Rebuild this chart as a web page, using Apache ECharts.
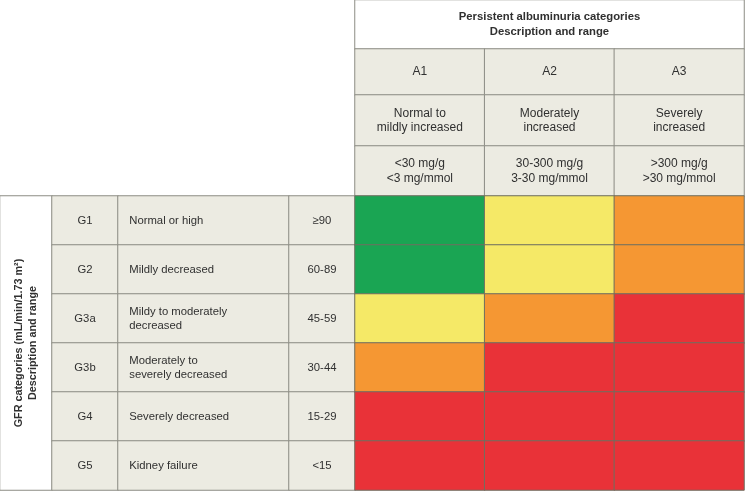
<!DOCTYPE html>
<html>
<head>
<meta charset="utf-8">
<script src="https://cdn.jsdelivr.net/npm/echarts@6/dist/echarts.min.js"></script>
<style>html,body{margin:0;padding:0;background:#fff}#c{width:745px;height:491px}</style>
</head>
<body>
<div id="c"></div>
<script>
const headerTitle = 'Persistent albuminuria categories\nDescription and range';
const sideTitle = 'GFR categories (mL/min/1.73 m²)\nDescription and range';
const albCategories = ['A1', 'A2', 'A3'];
const albDescriptions = ['Normal to\nmildly increased', 'Moderately\nincreased', 'Severely\nincreased'];
const albRanges = ['<30 mg/g\n<3 mg/mmol', '30-300 mg/g\n3-30 mg/mmol', '>300 mg/g\n>30 mg/mmol'];
const gfrCategories = ['G1', 'G2', 'G3a', 'G3b', 'G4', 'G5'];
const gfrDescriptions = ['Normal or high', 'Mildly decreased', 'Mildy to moderately\ndecreased', 'Moderately to\nseverely decreased', 'Severely decreased', 'Kidney failure'];
const gfrRanges = ['≥90', '60-89', '45-59', '30-44', '15-29', '<15'];
// risk level per GFR row (G1..G5) and albuminuria column (A1..A3)
const riskLevels = [
  [0, 1, 2],
  [0, 1, 2],
  [1, 2, 3],
  [2, 3, 3],
  [3, 3, 3],
  [3, 3, 3]
];
const riskColors = ['#1aa553', '#f5e967', '#f59733', '#e93238'];

const FONT = '"Liberation Sans", Arial, Helvetica, sans-serif';
const BEIGE = '#ecebe2';
const LINE = '#8c8c84';
const TEXT = '#303030';

const grids = [], xAxes = [], yAxes = [], series = [];

function addTable(box, xCats, yCats, cells, opts) {
  const gi = grids.length;
  grids.push({left: box[0], top: box[1], width: box[2], height: box[3], containLabel: false});
  xAxes.push({type: 'category', gridIndex: gi, data: xCats, show: false});
  yAxes.push({type: 'category', gridIndex: gi, data: yCats, inverse: true, show: false});
  series.push({
    type: 'heatmap',
    xAxisIndex: gi,
    yAxisIndex: gi,
    silent: true,
    itemStyle: {borderColor: opts.borderColor || LINE, borderWidth: 1},
    label: Object.assign({
      show: true,
      color: TEXT,
      fontFamily: FONT,
      fontSize: 11,
      lineHeight: 14,
      formatter: p => p.data.text || ''
    }, opts.label || {}),
    emphasis: {disabled: true},
    data: cells
  });
}

// Title box above albuminuria columns
addTable([355, 0, 389, 49], ['t'], ['t'],
  [{value: [0, 0, 0], text: headerTitle, itemStyle: {color: '#ffffff'}}],
  {label: {fontWeight: 'bold', fontSize: 11.3, lineHeight: 15}});

// Albuminuria header rows: category, description, range
const headerRows = [albCategories, albDescriptions, albRanges];
const headerBoxes = [[355, 49, 389, 46], [355, 95, 389, 51], [355, 146, 389, 50]];
headerRows.forEach((row, r) => {
  addTable(headerBoxes[r], albCategories, ['row'],
    row.map((t, c) => ({value: [c, 0, 0], text: t, itemStyle: {color: BEIGE}})),
    {label: {fontSize: 12, lineHeight: 14.5}});
});

// GFR side title
addTable([0, 196, 52, 294], ['s'], ['s'],
  [{value: [0, 0, 0], text: sideTitle, itemStyle: {color: '#ffffff'}}],
  {label: {rotate: 90, fontWeight: 'bold', fontSize: 10.8, lineHeight: 13.5}});

// GFR category column
addTable([52, 196, 66, 294], ['g'], gfrCategories,
  gfrCategories.map((t, i) => ({value: [0, i, 0], text: t, itemStyle: {color: BEIGE}})),
  {label: {fontSize: 11.3}});

// GFR description column
addTable([118, 196, 171, 294], ['d'], gfrCategories,
  gfrDescriptions.map((t, i) => ({value: [0, i, 0], text: t, itemStyle: {color: BEIGE}})),
  {label: {fontSize: 11.3, position: 'insideLeft', distance: 12, align: 'left', lineHeight: 14}});

// GFR range column
addTable([289, 196, 66, 294], ['r'], gfrCategories,
  gfrRanges.map((t, i) => ({value: [0, i, 0], text: t, itemStyle: {color: BEIGE}})),
  {label: {fontSize: 11.3}});

// Risk heat map
const riskCells = [];
riskLevels.forEach((row, r) => row.forEach((lvl, c) => {
  riskCells.push({value: [c, r, lvl], itemStyle: {color: riskColors[lvl]}});
}));
addTable([355, 196, 389, 294], albCategories, gfrCategories, riskCells,
  {borderColor: '#6f6f60', label: {show: false}});

const chart = echarts.init(document.getElementById('c'), null, {renderer: 'canvas'});
chart.setOption({
  animation: false,
  backgroundColor: '#ffffff',
  grid: grids,
  xAxis: xAxes,
  yAxis: yAxes,
  series: series
});
</script>
</body>
</html>
